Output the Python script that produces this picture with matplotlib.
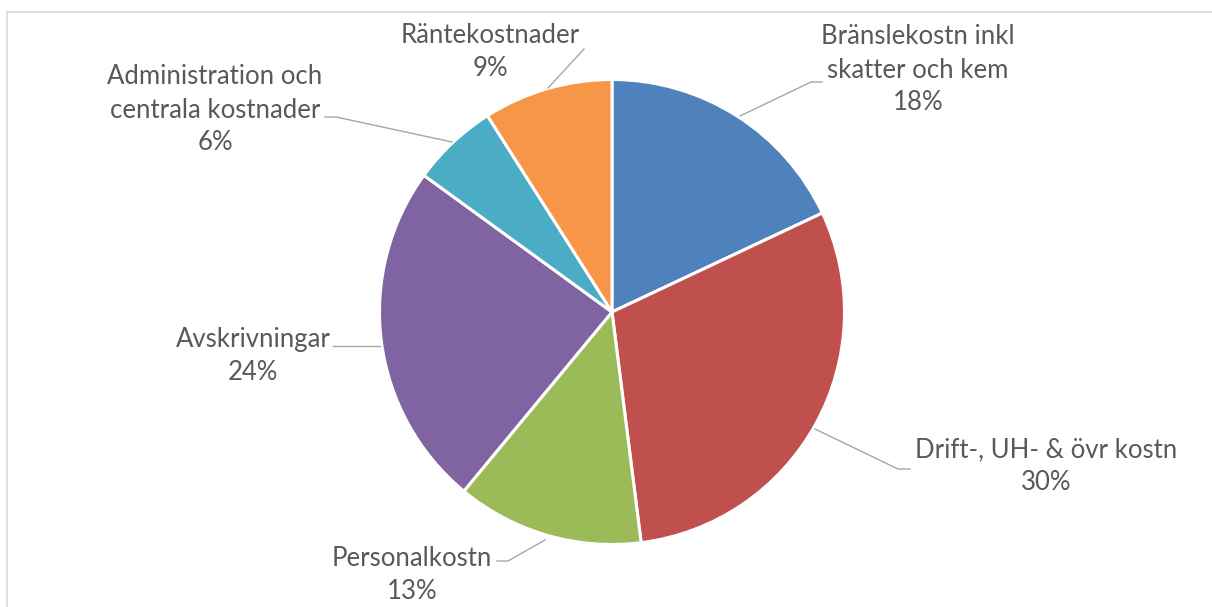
import matplotlib
matplotlib.use("Agg")
import matplotlib.pyplot as plt

# ---- data ----
categories = ["Bränslekostn inkl\nskatter och kem", "Drift-, UH- & övr kostn",
              "Personalkostn", "Avskrivningar",
              "Administration och\ncentrala kostnader", "Räntekostnader"]
shares = [18, 30, 13, 24, 6, 9]
colors = ["#4F81BD", "#C0504D", "#9BBB59", "#8064A2", "#4BACC6", "#F79646"]

W, H = 1212, 607
fig = plt.figure(figsize=(W / 100, H / 100), dpi=100)
ax = fig.add_axes([0, 0, 1, 1])

def Y(y):
    return H - y

ax.pie(shares, colors=colors, startangle=90, counterclock=False,
       center=(612, Y(312)), radius=232.5,
       wedgeprops=dict(edgecolor="white", linewidth=2.2))
ax.set_xlim(0, W)
ax.set_ylim(0, H)
ax.set_aspect("equal")
ax.axis("off")

# chart-area border (only top & left visible)
ax.plot([6.5, 6.5, W + 5], [Y(H + 5), Y(12), Y(12)], color="#D9D9D9", lw=1.2,
        solid_joinstyle="miter")

# label layout: (text center x, text center y, leader polyline)
layout = [
    (918, 70, [(740, 116), (811, 82), (822, 82)]),
    (1046, 466, [(815, 429), (898, 469), (910, 469)]),
    (412, 575, [(545, 540), (508, 561), (497, 561)]),
    (253, 356, [(380, 346), (333, 346)]),
    (215, 110, [(452, 142), (336, 117), (325, 117)]),
    (490, 52, [(548, 88), (584, 49)]),
]

for cat, v, (tx, ty, pts) in zip(categories, shares, layout):
    xs = [p[0] for p in pts]
    ys = [Y(p[1]) for p in pts]
    ax.plot(xs, ys, color="#A6A6A6", lw=1.0)
    ax.text(tx, Y(ty), f"{cat}\n{v}%", ha="center", va="center",
            multialignment="center", fontsize=18.5, family="Lato",
            color="#595959", linespacing=1.4)

fig.savefig("out.png", dpi=100)
